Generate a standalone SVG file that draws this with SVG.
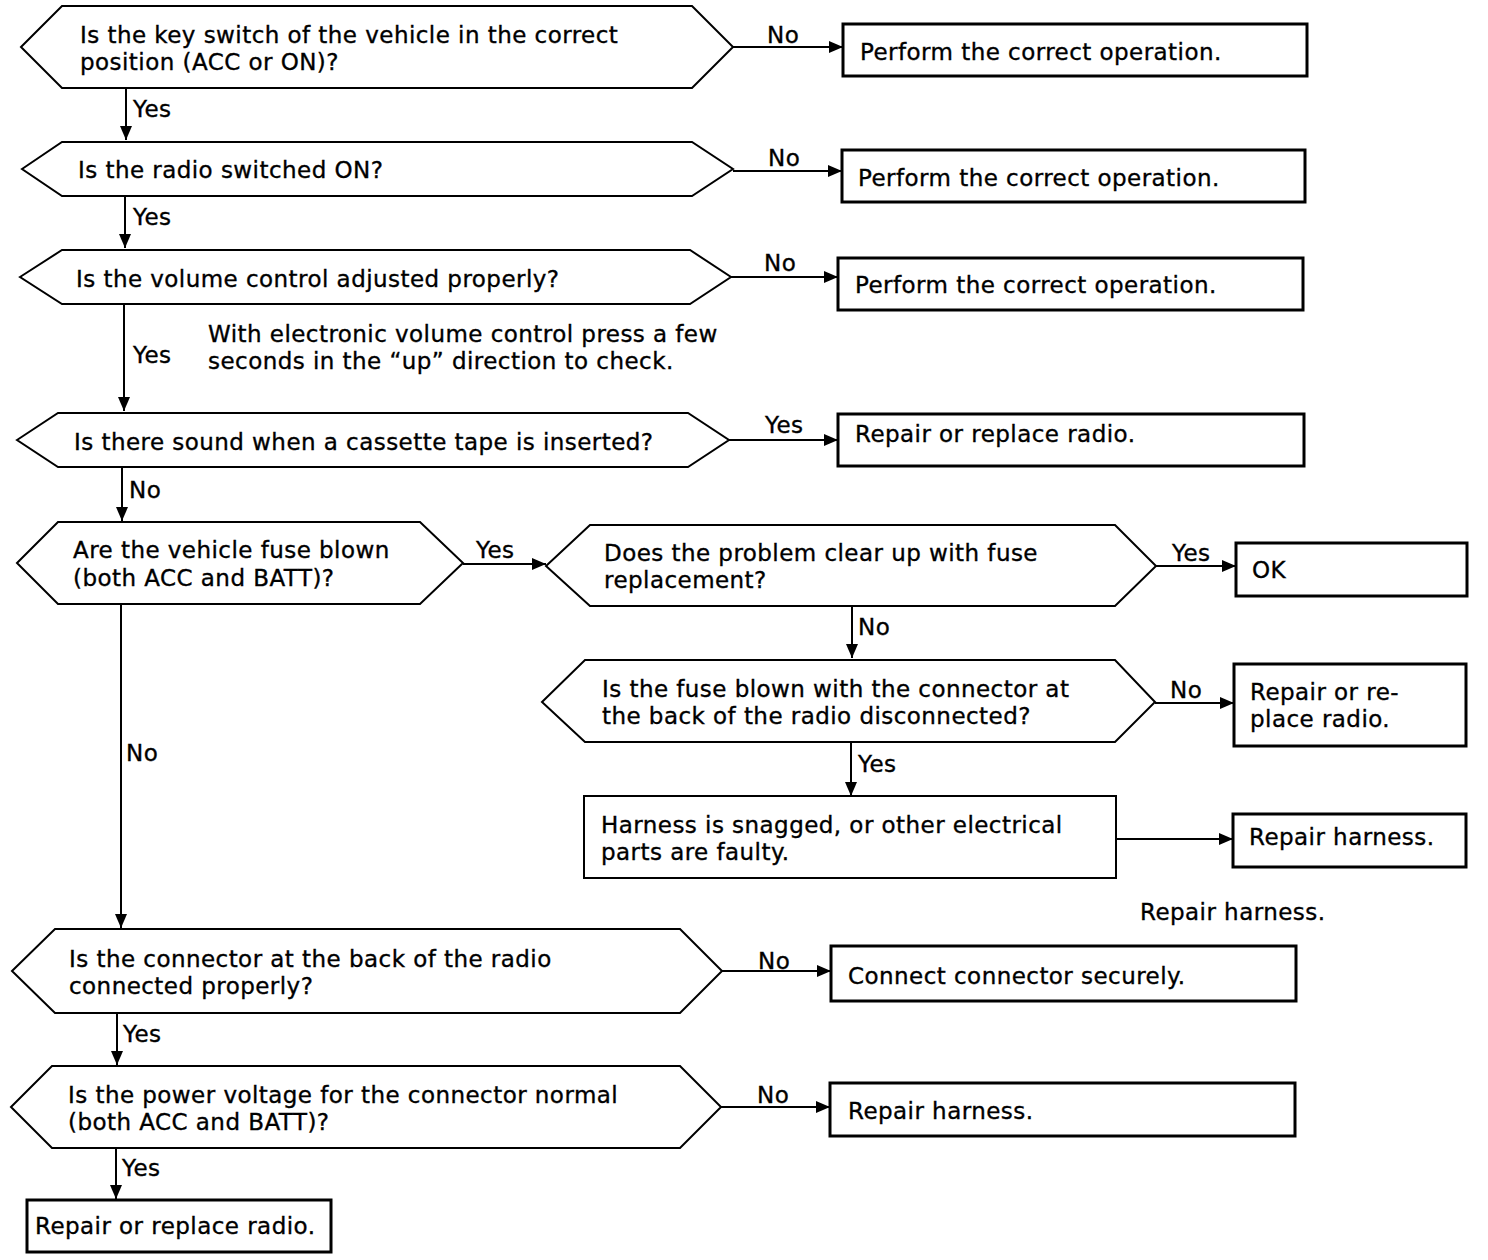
<svg xmlns="http://www.w3.org/2000/svg" width="1488" height="1260" viewBox="0 0 1488 1260">
<defs>
<marker id="ah" markerWidth="14" markerHeight="12" refX="14" refY="6" orient="auto" markerUnits="userSpaceOnUse"><path d="M0,0 L14,6 L0,12 Z" fill="#000"/></marker>
</defs>
<style>
text{font-family:"DejaVu Sans","Liberation Sans",Arial,sans-serif;font-size:23px;letter-spacing:0.45px;fill:#000;stroke:#000;stroke-width:0.35px}
.hex{fill:#fff;stroke:#000;stroke-width:2}
.box{fill:#fff;stroke:#000;stroke-width:3}
.c{fill:none;stroke:#000;stroke-width:2;marker-end:url(#ah)}
</style>
<rect width="1488" height="1260" fill="#fff"/>
<g id="connectors">
<path class="c" d="M733,47 H843"/>
<path class="c" d="M126,88 V140"/>
<path class="c" d="M733,171 H842"/>
<path class="c" d="M125,196 V248"/>
<path class="c" d="M731,277 H838"/>
<path class="c" d="M124,304 V411"/>
<path class="c" d="M729,440 H838"/>
<path class="c" d="M122,467 V521"/>
<path class="c" d="M463,564 H546"/>
<path class="c" d="M1156,566 H1236"/>
<path class="c" d="M852,606 V658"/>
<path class="c" d="M1155,703 H1234"/>
<path class="c" d="M851,742 V796"/>
<path class="c" d="M1116,839 H1233"/>
<path class="c" d="M121,604 V928"/>
<path class="c" d="M722,971 H831"/>
<path class="c" d="M117,1013 V1065"/>
<path class="c" d="M721,1107 H830"/>
<path class="c" d="M116,1148 V1199"/>
<text x="767" y="43">No</text>
<text x="133" y="117">Yes</text>
<text x="768" y="166">No</text>
<text x="133" y="225">Yes</text>
<text x="764" y="271">No</text>
<text x="133" y="363">Yes</text>
<text x="765" y="433">Yes</text>
<text x="129" y="498">No</text>
<text x="476" y="558">Yes</text>
<text x="1172" y="561">Yes</text>
<text x="858" y="635">No</text>
<text x="1170" y="698">No</text>
<text x="858" y="772">Yes</text>
<text x="126" y="761">No</text>
<text x="758" y="969">No</text>
<text x="123" y="1042">Yes</text>
<text x="757" y="1103">No</text>
<text x="122" y="1176">Yes</text>
</g>
<g id="q1"><path class="hex" d="M21,47 L62,6 H692 L733,47 L692,88 H62 Z"/><text x="80" y="43">Is the key switch of the vehicle in the correct<tspan x="80" y="70">position (ACC or ON)?</tspan></text></g>
<g id="a1"><rect class="box" x="843" y="24" width="464" height="52"/><text x="860" y="60">Perform the correct operation.</text></g>
<g id="q2"><path class="hex" d="M22,169 L62,142 H692 L733,169 L692,196 H62 Z"/><text x="78" y="178">Is the radio switched ON?</text></g>
<g id="a2"><rect class="box" x="842" y="150" width="463" height="52"/><text x="858" y="186">Perform the correct operation.</text></g>
<g id="q3"><path class="hex" d="M20,277 L62,250 H690 L731,277 L690,304 H62 Z"/><text x="76" y="287">Is the volume control adjusted properly?</text></g>
<g id="a3"><rect class="box" x="838" y="258" width="465" height="52"/><text x="855" y="293">Perform the correct operation.</text></g>
<g id="note"><text x="208" y="342">With electronic volume control press a few<tspan x="208" y="369">seconds in the “up” direction to check.</tspan></text></g>
<g id="q4"><path class="hex" d="M17,440 L58,413 H688 L729,440 L688,467 H58 Z"/><text x="74" y="450">Is there sound when a cassette tape is inserted?</text></g>
<g id="a4"><rect class="box" x="838" y="414" width="466" height="52"/><text x="855" y="442">Repair or replace radio.</text></g>
<g id="q5"><path class="hex" d="M17,563 L58,522 H420 L463,563 L420,604 H58 Z"/><text x="73" y="558">Are the vehicle fuse blown<tspan x="73" y="586">(both ACC and BATT)?</tspan></text></g>
<g id="q6"><path class="hex" d="M546,566 L590,525 H1115 L1156,566 L1115,606 H590 Z"/><text x="604" y="561">Does the problem clear up with fuse<tspan x="604" y="588">replacement?</tspan></text></g>
<g id="ok"><rect class="box" x="1236" y="543" width="231" height="53"/><text x="1252" y="578">OK</text></g>
<g id="q7"><path class="hex" d="M542,702 L585,660 H1115 L1155,702 L1115,742 H585 Z"/><text x="602" y="697">Is the fuse blown with the connector at<tspan x="602" y="724">the back of the radio disconnected?</tspan></text></g>
<g id="a7"><rect class="box" x="1234" y="664" width="232" height="82"/><text x="1250" y="700">Repair or re-<tspan x="1250" y="727">place radio.</tspan></text></g>
<g id="harness"><rect class="box" x="584" y="796" width="532" height="82" style="stroke-width:2"/><text x="601" y="833">Harness is snagged, or other electrical<tspan x="601" y="860">parts are faulty.</tspan></text></g>
<g id="rh1"><rect class="box" x="1233" y="814" width="233" height="53"/><text x="1249" y="845">Repair harness.</text></g>
<g id="rh-label"><text x="1140" y="920">Repair harness.</text></g>
<g id="q8"><path class="hex" d="M12,971 L55,929 H680 L722,971 L680,1013 H55 Z"/><text x="69" y="967">Is the connector at the back of the radio<tspan x="69" y="994">connected properly?</tspan></text></g>
<g id="a8"><rect class="box" x="831" y="946" width="465" height="55"/><text x="848" y="984">Connect connector securely.</text></g>
<g id="q9"><path class="hex" d="M11,1107 L52,1066 H680 L721,1107 L680,1148 H52 Z"/><text x="68" y="1103">Is the power voltage for the connector normal<tspan x="68" y="1130">(both ACC and BATT)?</tspan></text></g>
<g id="a9"><rect class="box" x="830" y="1083" width="465" height="53"/><text x="848" y="1119">Repair harness.</text></g>
<g id="final"><rect class="box" x="27" y="1200" width="304" height="52"/><text x="35" y="1234">Repair or replace radio.</text></g>
</svg>
